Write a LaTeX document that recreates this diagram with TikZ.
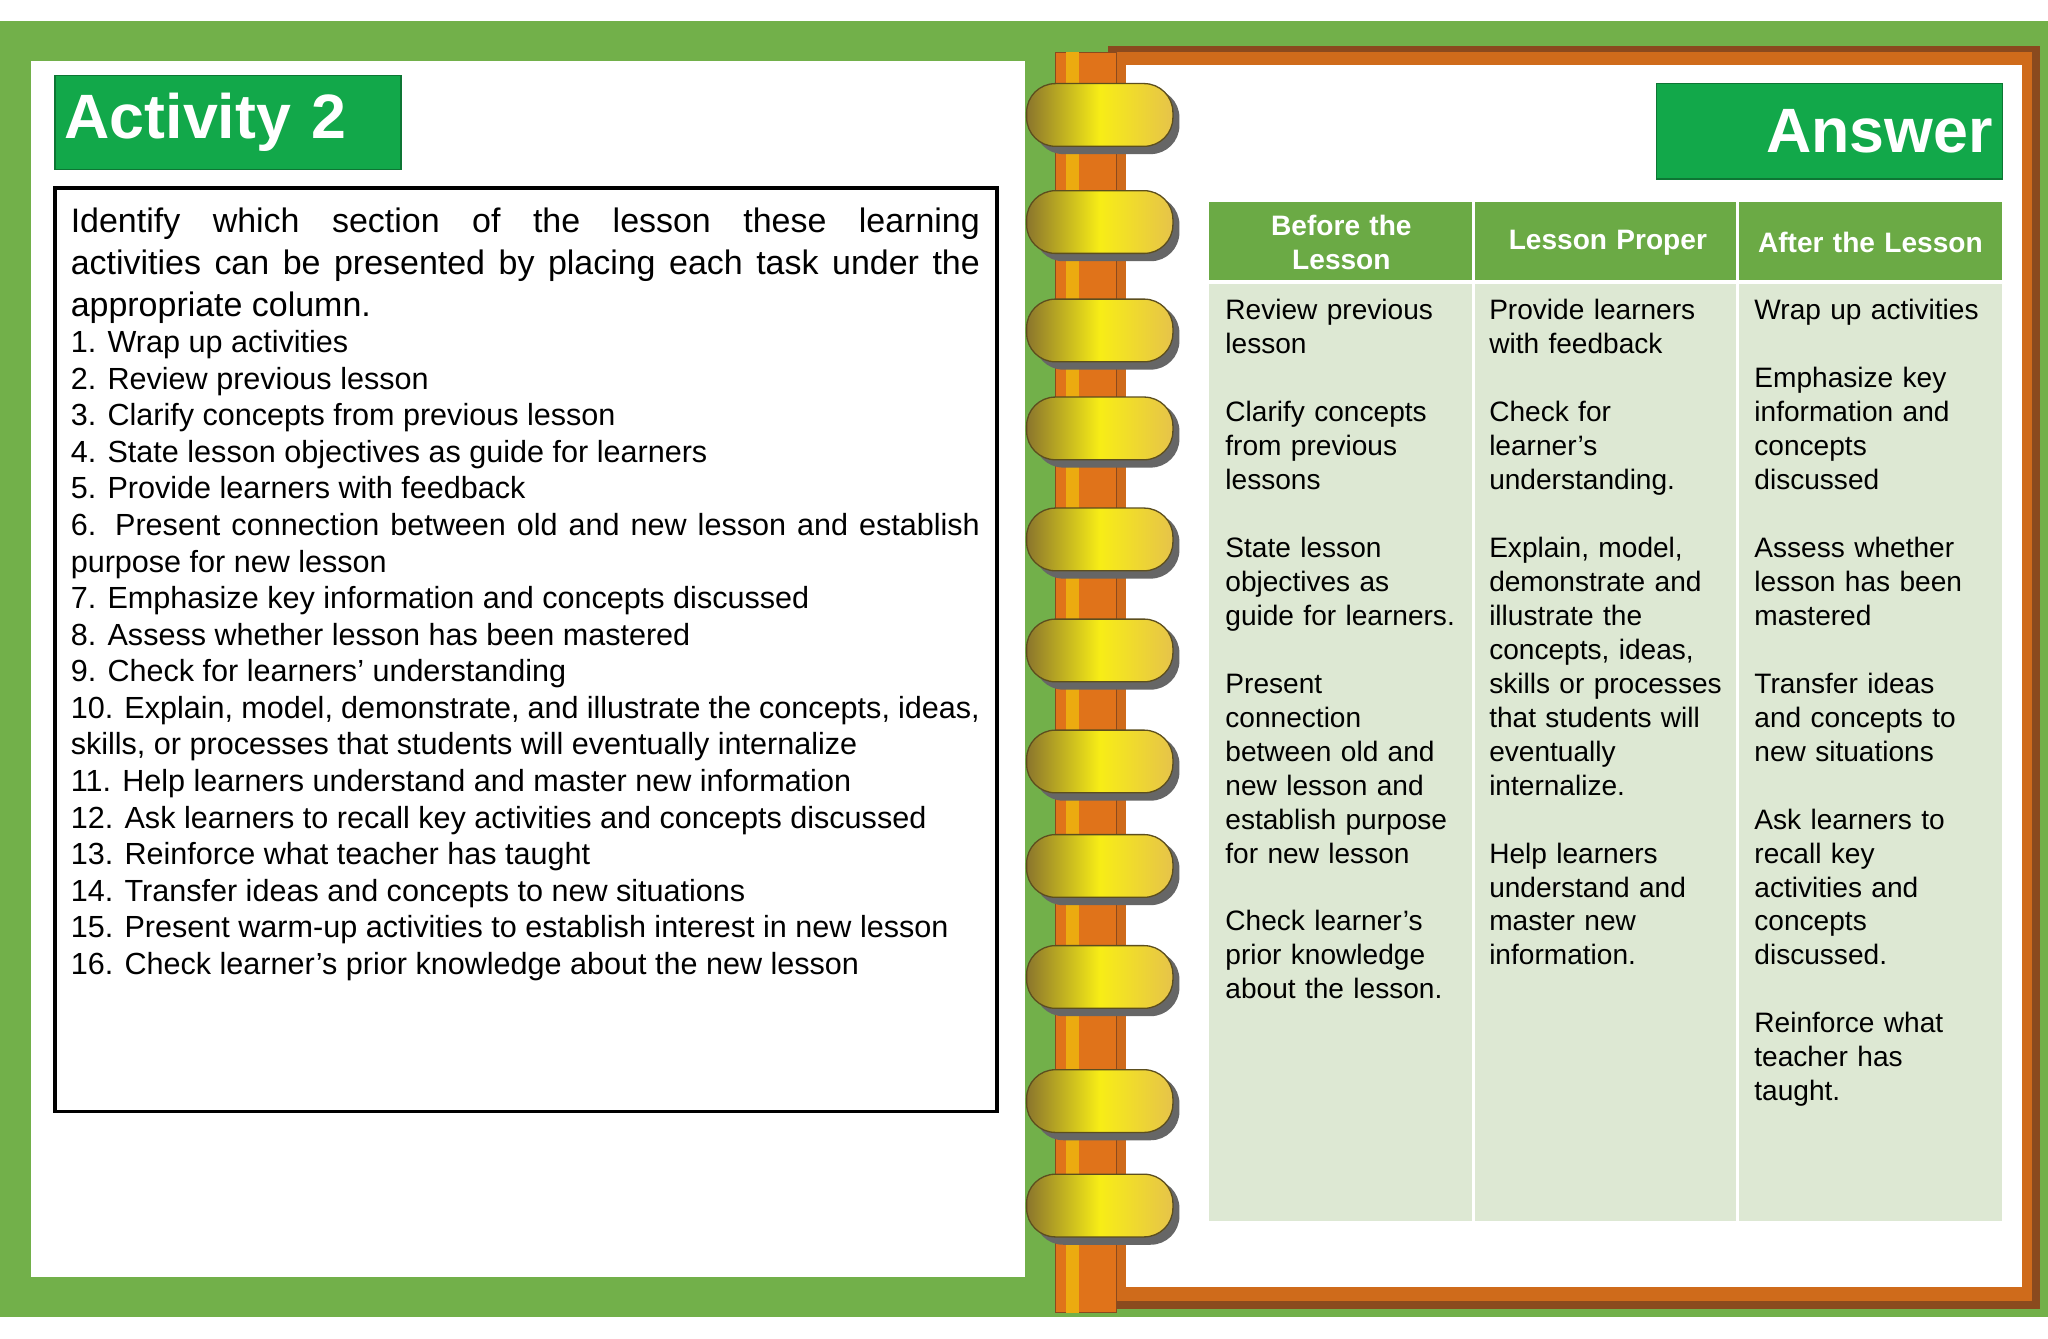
\documentclass[tikz,border=0pt]{standalone}
\usepackage{fontspec}
\setmainfont{Liberation Sans}
\usetikzlibrary{positioning}
\definecolor{frameG}{HTML}{72B04A}
\definecolor{hdrG}{HTML}{6BAA45}
\definecolor{cellG}{HTML}{DDE8D3}
\definecolor{btnG}{HTML}{12A84A}
\definecolor{orng}{HTML}{E0731A}
\definecolor{brn}{HTML}{8A4A1E}
\definecolor{gold}{HTML}{E6C34A}
\tikzset{
 titlebox/.style={fill=btnG,draw=btnG!70!black,line width=1pt,text=white,font=\bfseries\fontsize{48}{50}\selectfont,inner sep=0pt},
 cell/.style={anchor=north west,text width=200pt,align=left,inner sep=0pt,font=\fontsize{21.5}{26}\selectfont},
 hdr/.style={text=white,font=\bfseries\fontsize{21.5}{26}\selectfont,align=center,text width=195pt,inner sep=0pt},
 coil/.style={rounded corners=22pt,left color=gold!60!black,right color=gold,middle color=yellow!70!gold,draw=gold!40!black,line width=1pt}
}
\begin{document}
\begin{tikzpicture}[x=1pt,y=-1pt]
\useasboundingbox (0,0) rectangle (1568,1025);
\fill[white] (0,0) rectangle (1568,1025);
\fill[frameG] (0,16) rectangle (790,1008);
\fill[white] (24,47) rectangle (785,978);
\fill[frameG] (785,16) rectangle (1568,1008);
\fill[brn] (848,35) rectangle (1562,1002);
\fill[orng!80!brn] (852,40) rectangle (1556,996);
\fill[white] (862,50) rectangle (1548,985);
\fill[orng,draw=brn] (808,40) rectangle (855,1005);
\fill[orng!60!yellow] (816,40) rectangle (826,1005);
\foreach \y in {90,172,255,330,415,500,585,665,750,845,925}{
 \fill[black!60,rounded corners=22pt] (792,\y-22) rectangle (903,\y+28);
 \path[coil] (786,\y-26) rectangle (898,\y+22);
}
\node[titlebox,minimum width=265pt,minimum height=72pt,text width=250pt,align=left] (act) at (174.5,94) {Activity 2};
\node[titlebox,minimum width=265pt,minimum height=73pt,text width=250pt,align=right] (ans) at (1400.5,100.5) {Answer};
\draw[line width=3pt] (42,144) rectangle (763,851);
\node[anchor=north west,text width=696pt,inner sep=0pt,align=justify,font=\fontsize{23.4}{28}\selectfont] (q) at (54,159) {%
{\fontsize{26}{32}\selectfont Identify which section of the lesson these learning\linebreak activities can be presented by placing each task under the\linebreak appropriate column.\par}
1. Wrap up activities\par
2. Review previous lesson\par
3. Clarify concepts from previous lesson\par
4. State lesson objectives as guide for learners\par
5. Provide learners with feedback\par
6. Present connection between old and new lesson and establish\linebreak purpose for new lesson\par
7. Emphasize key information and concepts discussed\par
8. Assess whether lesson has been mastered\par
9. Check for learners’ understanding\par
10. Explain, model, demonstrate, and illustrate the concepts, ideas,\linebreak skills, or processes that students will eventually internalize\par
11. Help learners understand and master new information\par
12. Ask learners to recall key activities and concepts discussed\par
13. Reinforce what teacher has taught\par
14. Transfer ideas and concepts to new situations\par
15. Present warm-up activities to establish interest in new lesson\par
16. Check learner’s prior knowledge about the new lesson\par};
\fill[hdrG] (926,155) rectangle (1533,216);
\fill[cellG] (926,216) rectangle (1533,935);
\draw[white,line width=2.5pt] (1128,155) -- (1128,935) (1330,155) -- (1330,935) (926,216) -- (1533,216);
\node[hdr] (h1) at (1027,186) {Before the\\Lesson};
\node[hdr] (h2) at (1231,186) {Lesson Proper};
\node[hdr] (h3) at (1432,186) {After the Lesson};
\node[cell] (c1) at (938,229) {Review previous\\lesson\\[26pt]Clarify concepts\\from previous\\lessons\\[26pt]State lesson\\objectives as\\guide for learners.\\[26pt]Present\\connection\\between old and\\new lesson and\\establish purpose\\for new lesson\\[26pt]Check learner’s\\prior knowledge\\about the lesson.};
\node[cell] (c2) at (1140,229) {Provide learners\\with feedback\\[26pt]Check for\\learner’s\\understanding.\\[26pt]Explain, model,\\demonstrate and\\illustrate the\\concepts, ideas,\\skills or processes\\that students will\\eventually\\internalize.\\[26pt]Help learners\\understand and\\master new\\information.};
\node[cell] (c3) at (1343,229) {Wrap up activities\\[26pt]Emphasize key\\information and\\concepts\\discussed\\[26pt]Assess whether\\lesson has been\\mastered\\[26pt]Transfer ideas\\and concepts to\\new situations\\[26pt]Ask learners to\\recall key\\activities and\\concepts\\discussed.\\[26pt]Reinforce what\\teacher has\\taught.};
\end{tikzpicture}
\end{document}
